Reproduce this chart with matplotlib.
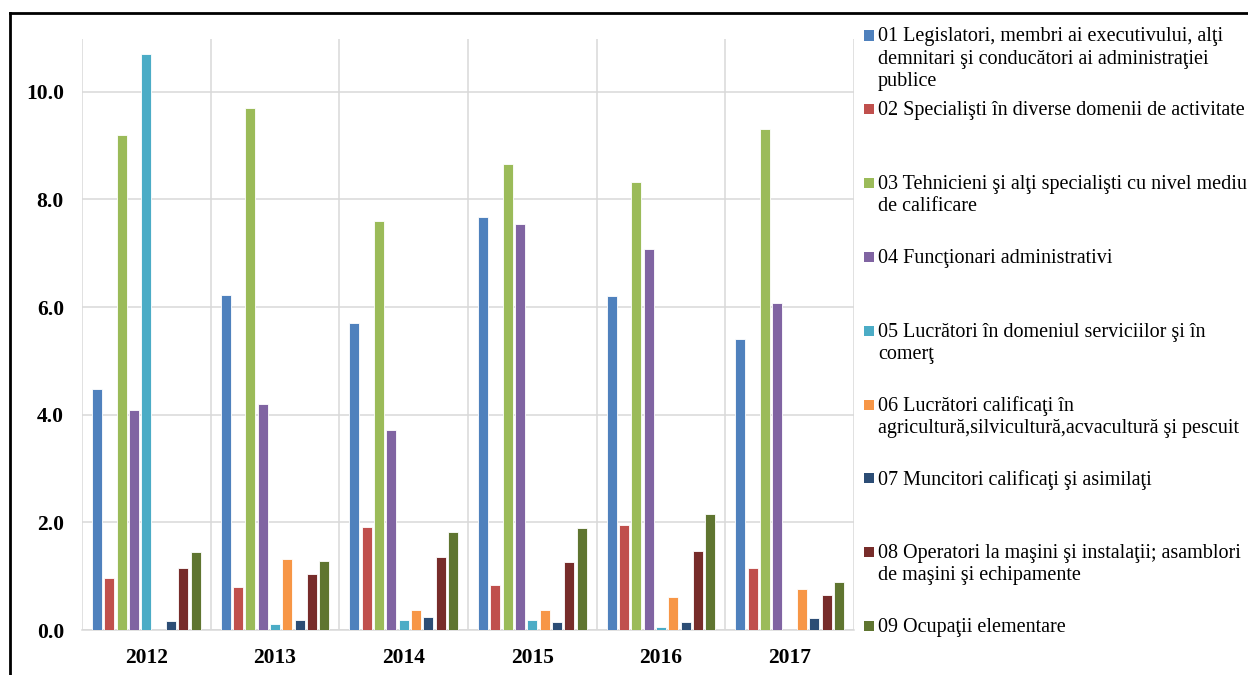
import matplotlib.pyplot as plt
import numpy as np
from matplotlib.lines import Line2D
from matplotlib.patches import Rectangle

plt.rcParams['font.family'] = ['Liberation Serif', 'DejaVu Serif']

years = ['2012', '2013', '2014', '2015', '2016', '2017']
labels = [
    "01 Legislatori, membri ai executivului, alţi\ndemnitari şi conducători ai administraţiei\npublice",
    "02 Specialişti în diverse domenii de activitate",
    "03 Tehnicieni şi alţi specialişti cu nivel mediu\nde calificare",
    "04 Funcţionari administrativi",
    "05 Lucrători în domeniul serviciilor şi în\ncomerţ",
    "06 Lucrători calificaţi în\nagricultură,silvicultură,acvacultură şi pescuit",
    "07 Muncitori calificaţi şi asimilaţi",
    "08 Operatori la maşini şi instalaţii; asamblori\nde maşini şi echipamente",
    "09 Ocupaţii elementare",
]
colors = ['#4F81BD', '#C0504D', '#9BBB59', '#8064A2', '#4BACC6',
          '#F79646', '#2C4D75', '#772C2A', '#5F7530']

s01 = [4.47, 6.23, 5.70, 7.68, 6.21, 5.40]
s02 = [0.97, 0.80, 1.91, 0.84, 1.95, 1.16]
s03 = [9.20, 9.69, 7.60, 8.65, 8.33, 9.31]
s04 = [4.08, 4.20, 3.71, 7.55, 7.07, 6.08]
s05 = [10.71, 0.11, 0.18, 0.19, 0.05, 0.0]
s06 = [0.0, 1.32, 0.37, 0.38, 0.61, 0.76]
s07 = [0.17, 0.18, 0.24, 0.15, 0.15, 0.22]
s08 = [1.15, 1.04, 1.35, 1.26, 1.47, 0.65]
s09 = [1.44, 1.29, 1.82, 1.89, 2.15, 0.90]
series = [s01, s02, s03, s04, s05, s06, s07, s08, s09]

fig = plt.figure(figsize=(12.48, 6.75), dpi=100)
ax = fig.add_axes([82 / 1248, 1 - 630 / 675, (854 - 82) / 1248, (630 - 39) / 675])

x = np.arange(len(years))
step = 0.0956
width = 0.078
for j, vals in enumerate(series):
    ax.bar(x + (j - 4) * step, vals, width, color=colors[j],
           edgecolor='white', linewidth=0.6, zorder=3)

ax.set_xlim(-0.5, 5.5)
ax.set_ylim(0, 10.98)
ax.set_yticks(np.arange(0, 11, 2.0))
ax.set_yticklabels([f"{v:.1f}" for v in np.arange(0, 11, 2.0)])
ax.set_xticks(x)
ax.set_xticklabels(years)
ax.set_xticks(np.arange(-0.5, 6, 1.0), minor=True)
ax.tick_params(axis='both', which='both', length=0, labelsize=15.5)
ax.tick_params(axis='y', pad=13)
ax.tick_params(axis='x', pad=13)
for lab in ax.get_xticklabels() + ax.get_yticklabels():
    lab.set_fontweight('bold')

ax.grid(axis='y', which='major', color='#D9D9D9', linewidth=1.1, zorder=0)
ax.grid(axis='x', which='minor', color='#D9D9D9', linewidth=1.1, zorder=0)
for side in ['top', 'right', 'left']:
    ax.spines[side].set_visible(False)
ax.spines['bottom'].set_color('#D9D9D9')
ax.spines['bottom'].set_linewidth(1.1)

# legend, laid out in fixed slots
W, H = 1248, 675
for i, lab in enumerate(labels):
    yc = 35.5 + i * 73.8
    fig.add_artist(Rectangle((864 / W, 1 - (yc + 5) / H), 10 / W, 10 / H,
                             facecolor=colors[i], edgecolor='none',
                             transform=fig.transFigure))
    fig.text(878 / W, 1 - (yc - 8) / H, lab, fontsize=14.5, va='top',
             ha='left', linespacing=1.22)

# frame lines
fig.add_artist(Line2D([10 / W, 1], [1 - 13 / H, 1 - 13 / H], color='black',
                      linewidth=2, transform=fig.transFigure))
fig.add_artist(Line2D([10 / W, 10 / W], [0, 1 - 13 / H], color='black',
                      linewidth=2, transform=fig.transFigure))

fig.savefig('out.png', dpi=100)
